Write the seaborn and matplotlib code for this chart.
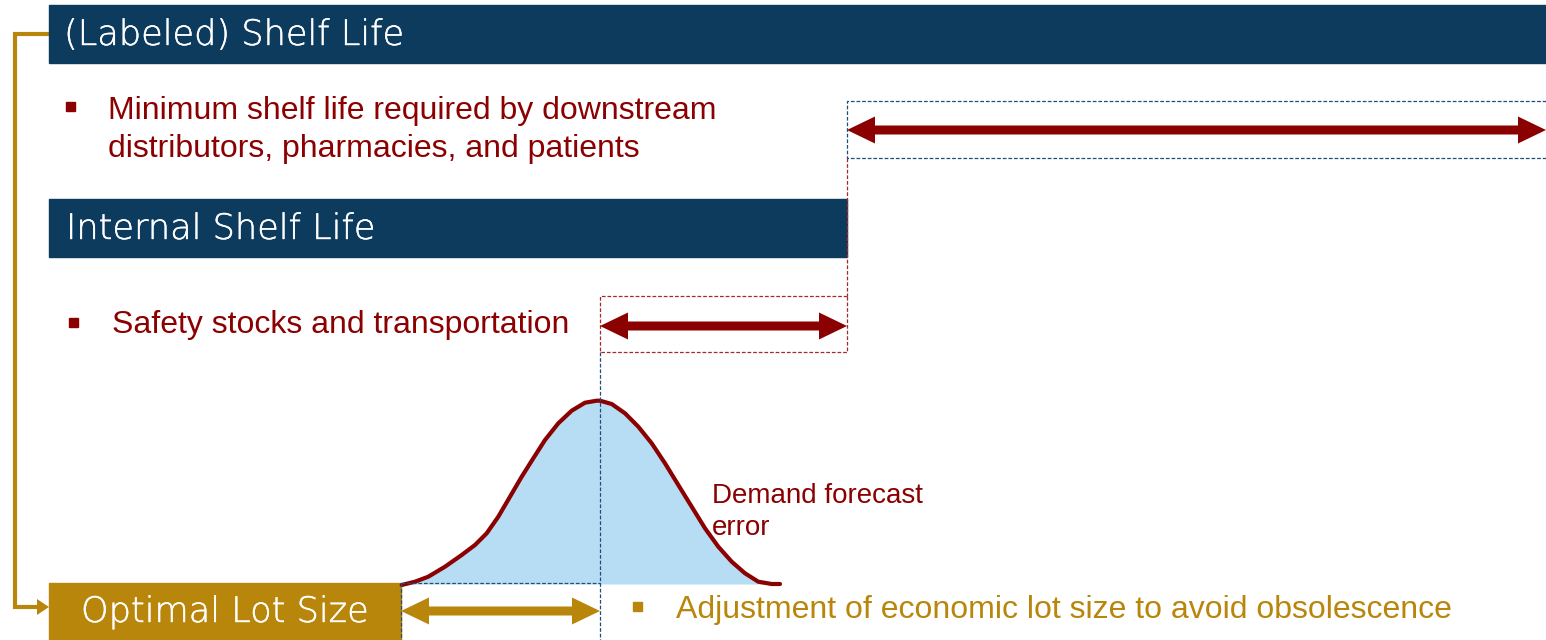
import matplotlib
matplotlib.use("Agg")
import matplotlib.pyplot as plt
import matplotlib.patheffects as pe
import seaborn as sns
import pandas as pd
from matplotlib.patches import Rectangle, FancyArrow

sns.set_theme(style="white")
plt.rcParams['font.family'] = ['Liberation Sans', 'DejaVu Sans']

# demand forecast error curve (pixel space)
curve_x = [401.7, 415, 428.3, 445, 461.7, 475, 486.7, 498.3, 510, 521.7, 533.3, 545, 558.3,
           571.7, 585, 596.7, 600, 611.7, 625, 638.3, 651.7, 665, 678.3, 691.7, 705, 718.3,
           731.7, 745, 758.3, 771.7, 780]
curve_y = [585, 581.7, 576.7, 566.7, 555, 545, 533.3, 516.7, 496.7, 476.7, 458.3, 440, 423.3,
           410.7, 402.7, 400.7, 400.7, 404, 413.3, 426.7, 443.3, 463.3, 485, 506.7, 528.3, 546.7,
           561.7, 573.3, 581.7, 584, 584]

banner_labels = ["(Labeled) Shelf Life", "Internal Shelf Life", "Optimal Lot Size"]
bullet_labels = [
    "Minimum shelf life required by downstream\ndistributors, pharmacies, and patients",
    "Safety stocks and transportation",
    "Adjustment of economic lot size to avoid obsolescence",
]
curve_label = "Demand forecast\nerror"

NAVY = "#0d3b5e"
GOLD = "#b8860b"
RED = "#8b0000"
DASH_NAVY = "#1f4e79"
DASH_RED = "#a52a2a"
FILL = "#b6ddf4"

fig = plt.figure(figsize=(15.46, 6.4), dpi=100)
ax = fig.add_axes([0, 0, 1, 1])

banner_font = dict(family=["DejaVu Sans"], fontweight="light", color="white",
                   fontsize=25.3, va="center",
                   path_effects=[pe.withStroke(linewidth=0.3, foreground="white")])

# banners
ax.add_patch(Rectangle((49, 5), 1497, 58, color=NAVY, zorder=2))
ax.text(64, 35, banner_labels[0], **banner_font, zorder=3)
ax.add_patch(Rectangle((49, 199), 798, 58, color=NAVY, zorder=2))
ax.text(66, 229, banner_labels[1], **banner_font, zorder=3)
ax.add_patch(Rectangle((49, 583), 352, 57, color=GOLD, zorder=2))
ax.text(81, 612, banner_labels[2], **banner_font, zorder=3)

# gold bracket
ax.plot([49, 15, 15, 38], [34, 34, 607, 607], color=GOLD, lw=3, solid_joinstyle="miter", zorder=1)
ax.add_patch(FancyArrow(36, 607, 13, 0, width=0.1, head_width=16, head_length=12,
                        length_includes_head=True, color=GOLD, lw=0, zorder=1))

# bullets and text
ax.add_patch(Rectangle((66, 102), 9, 9, color=RED))
ax.text(108, 130, bullet_labels[0], color=RED, fontsize=23, va="center", linespacing=1.32)
ax.add_patch(Rectangle((69, 318), 9, 9, color=RED))
ax.text(112, 325, bullet_labels[1], color=RED, fontsize=23, va="center")
ax.add_patch(Rectangle((633, 602), 9, 9, color=GOLD))
ax.text(676, 610, bullet_labels[2], color=GOLD, fontsize=23, va="center")
ax.text(712, 512, curve_label, color=RED, fontsize=20, va="center", linespacing=1.3)

# dashed guides
dk = dict(lw=0.9, ls=(0, (3, 1.5)))
ax.plot([1546, 847, 847, 1546], [101, 101, 158, 158], color=DASH_NAVY, **dk)
ax.plot([847, 847], [158, 296], color=DASH_RED, **dk)
ax.plot([847, 600, 600, 847, 847], [296, 296, 352, 352, 296], color=DASH_RED, **dk)
ax.plot([600, 600], [352, 640], color=DASH_NAVY, zorder=4, **dk)
ax.plot([401, 600], [583, 583], color=DASH_NAVY, zorder=4, **dk)
ax.plot([401, 401], [583, 640], color=DASH_NAVY, zorder=4, **dk)

# double arrows: one full arrow plus a head-only arrow on the other end
def double_arrow(x0, x1, y, color, width=9, hw=27, hl=28):
    start = x0 + hl / 2
    ax.add_patch(FancyArrow(start, y, x1 - start, 0, width=width, head_width=hw,
                            head_length=hl, length_includes_head=True, color=color,
                            lw=0, zorder=5))
    ax.add_patch(FancyArrow(x0 + hl, y, -hl, 0, width=width, head_width=hw,
                            head_length=hl, length_includes_head=True, color=color,
                            lw=0, zorder=5))

double_arrow(847, 1546, 130, RED)
double_arrow(600, 847, 326, RED)
double_arrow(401, 600, 611, GOLD)

# curve
df = pd.DataFrame({"x": curve_x, "y": curve_y})
ax.fill_between(df["x"], df["y"], 584, color=FILL, lw=0, zorder=1)
sns.lineplot(data=df, x="x", y="y", ax=ax, color=RED, lw=3, sort=False, zorder=3)
ax.set_xlim(0, 1546)
ax.set_ylim(640, 0)
ax.axis("off")

fig.savefig("out.png", dpi=100)
